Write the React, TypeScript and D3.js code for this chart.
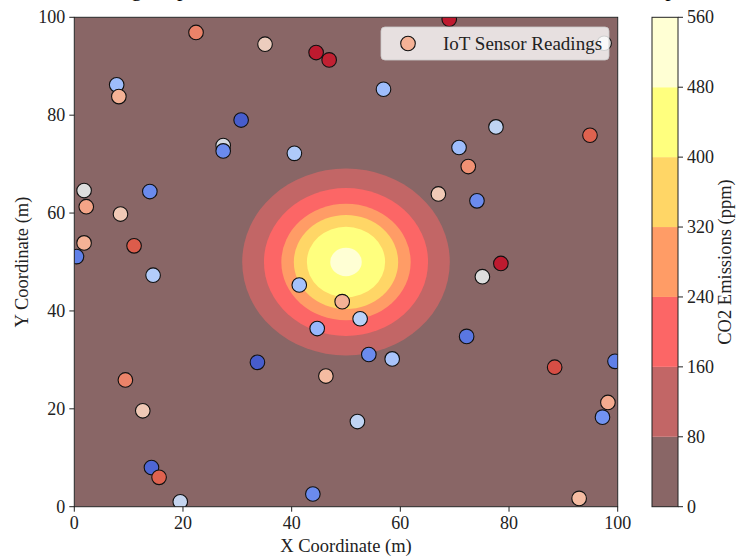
import { useEffect, useRef } from 'react';
import * as d3 from 'd3';

// contour bands of the CO2 field (ppm) and the radius (m) where each level is reached
const contourLevels = [0, 80, 160, 240, 320, 400, 480, 560];
const contourRadii = [19.1, 15.1, 11.9, 9.6, 7.2, 2.9];
const sourceX = 50;
const sourceY = 50;

// IoT sensors: position (m) and colour-scale level (0 = cool, 1 = warm)
const sensorX = [22.4, 7.8, 8.2, 30.7, 27.4, 27.4, 1.8, 2.2, 13.9, 8.5, 1.8, 11.0, 0.4, 14.5,
  9.4, 12.6, 14.2, 15.6, 19.5, 69.0, 35.1, 44.5, 46.9, 56.9, 77.6, 94.9, 40.5, 70.8, 72.5,
  67.0, 74.1, 78.5, 75.1, 97.5, 41.4, 49.3, 52.6, 44.7, 33.7, 54.2, 58.5, 46.3, 72.2, 88.4,
  99.5, 98.2, 97.2, 52.1, 43.9, 92.9];
const sensorY = [96.9, 86.2, 83.8, 79.0, 73.8, 72.7, 64.6, 61.3, 64.4, 59.8, 53.9, 53.3, 51.1, 47.3,
  25.9, 19.6, 8.0, 6.0, 1.0, 99.6, 94.5, 92.8, 91.3, 85.3, 77.6, 75.9, 72.2, 73.4, 69.5,
  63.9, 62.5, 49.7, 47.0, 94.7, 45.3, 41.9, 38.4, 36.4, 29.5, 31.1, 30.2, 26.7, 34.8, 28.5,
  29.7, 21.3, 18.3, 17.4, 2.6, 1.7];
const sensorLevel = [0.8, 0.3, 0.68, 0.04, 0.48, 0.15, 0.5, 0.72, 0.15, 0.6, 0.68, 0.88, 0.12, 0.36,
  0.8, 0.6, 0.06, 0.87, 0.42, 0.97, 0.58, 0.97, 0.96, 0.3, 0.4, 0.87, 0.35, 0.3, 0.77,
  0.6, 0.15, 0.97, 0.5, 0.5, 0.32, 0.68, 0.38, 0.28, 0.04, 0.15, 0.33, 0.65, 0.1, 0.9,
  0.12, 0.7, 0.17, 0.4, 0.15, 0.65];

const xTicks = [0, 20, 40, 60, 80, 100];
const yTicks = [0, 20, 40, 60, 80, 100];
const cbarTicks = [0, 80, 160, 240, 320, 400, 480, 560];

const FONT = "'Liberation Serif', 'Times New Roman', serif";

// matplotlib "hot" drawn at alpha 0.6 on white
const hot = (t: number) => {
  const c = (v: number) => Math.max(0, Math.min(1, v));
  const r = c(0.0416 + (1 - 0.0416) * t / 0.365079);
  const g = c((t - 0.365079) / 0.380953);
  const b = c((t - 0.746032) / 0.253968);
  const mix = (v: number) => Math.round(0.6 * v * 255 + 0.4 * 255);
  return `rgb(${mix(r)},${mix(g)},${mix(b)})`;
};

const coolwarm = d3.scaleLinear<string>()
  .domain([0, 0.125, 0.25, 0.375, 0.5, 0.625, 0.75, 0.875, 1])
  .range(['#3b4cc0', '#6282ea', '#8db0fe', '#b8d0f9', '#dddddd', '#f5c4ac', '#f49a7b', '#de604d', '#b40426'])
  .interpolate(d3.interpolateRgb);

const App = () => {
  const svgRef = useRef<SVGSVGElement>(null);

  useEffect(() => {
    const svg = d3.select(svgRef.current);
    svg.selectAll('*').remove();

    const x = d3.scaleLinear().domain([0, 100]).range([74.3, 617.7]);
    const y = d3.scaleLinear().domain([0, 100]).range([506.7, 17.3]);
    const cb = d3.scaleLinear().domain([0, 560]).range([506.7, 17.3]);
    const bandColor = (i: number) => hot((contourLevels[i] + contourLevels[i + 1]) / 2 / 560);

    svg.append('defs').append('clipPath').attr('id', 'plotClip')
      .append('rect')
      .attr('x', x(0)).attr('y', y(100))
      .attr('width', x(100) - x(0)).attr('height', y(0) - y(100));

    // title (its upper part lies above the visible window, as in the source)
    svg.append('text')
      .attr('x', 7).attr('y', -4)
      .style('font-family', FONT).style('font-size', '22px')
      .text('Air Monitoring Map of Total CO2 Emissions and IoT Sensor Network Output Data (ppm)');

    // filled contours
    const plot = svg.append('g').attr('clip-path', 'url(#plotClip)');
    plot.append('rect')
      .attr('x', x(0)).attr('y', y(100))
      .attr('width', x(100) - x(0)).attr('height', y(0) - y(100))
      .attr('fill', bandColor(0));
    plot.selectAll('.band')
      .data(contourRadii)
      .enter()
      .append('ellipse')
      .attr('class', 'band')
      .attr('cx', x(sourceX))
      .attr('cy', y(sourceY))
      .attr('rx', d => x(sourceX + d) - x(sourceX))
      .attr('ry', d => y(sourceY - d) - y(sourceY))
      .attr('fill', (d, i) => bandColor(i + 1));

    // sensors
    const sensors = sensorX.map((sx, i) => ({ sx, sy: sensorY[i], v: sensorLevel[i] }));
    plot.selectAll('.sensor')
      .data(sensors)
      .enter()
      .append('circle')
      .attr('class', 'sensor')
      .attr('cx', d => x(d.sx))
      .attr('cy', d => y(d.sy))
      .attr('r', 7.3)
      .attr('fill', d => coolwarm(d.v))
      .attr('stroke', '#111')
      .attr('stroke-width', 1.1);

    // frame
    svg.append('rect')
      .attr('x', x(0)).attr('y', y(100))
      .attr('width', x(100) - x(0)).attr('height', y(0) - y(100))
      .attr('fill', 'none').attr('stroke', '#222').attr('stroke-width', 1);

    // x axis
    const xAxis = svg.append('g');
    xAxis.selectAll('line').data(xTicks).enter().append('line')
      .attr('x1', d => x(d)).attr('x2', d => x(d))
      .attr('y1', y(0)).attr('y2', y(0) + 5)
      .attr('stroke', '#222');
    xAxis.selectAll('text').data(xTicks).enter().append('text')
      .attr('x', d => x(d)).attr('y', 529)
      .attr('text-anchor', 'middle')
      .style('font-family', FONT).style('font-size', '18px').style('fill', '#222')
      .text(d => d);
    svg.append('text')
      .attr('x', x(50)).attr('y', 552)
      .attr('text-anchor', 'middle')
      .style('font-family', FONT).style('font-size', '18.5px').style('fill', '#222')
      .text('X Coordinate (m)');

    // y axis
    const yAxis = svg.append('g');
    yAxis.selectAll('line').data(yTicks).enter().append('line')
      .attr('x1', x(0) - 5).attr('x2', x(0))
      .attr('y1', d => y(d)).attr('y2', d => y(d))
      .attr('stroke', '#222');
    yAxis.selectAll('text').data(yTicks).enter().append('text')
      .attr('x', x(0) - 9).attr('y', d => y(d))
      .attr('dy', '0.34em')
      .attr('text-anchor', 'end')
      .style('font-family', FONT).style('font-size', '18px').style('fill', '#222')
      .text(d => d);
    svg.append('text')
      .attr('transform', `translate(28,${y(50)}) rotate(-90)`)
      .attr('text-anchor', 'middle')
      .style('font-family', FONT).style('font-size', '18.5px').style('fill', '#222')
      .text('Y Coordinate (m)');

    // legend
    const legend = svg.append('g');
    legend.append('rect')
      .attr('x', 381).attr('y', 27).attr('width', 228).attr('height', 33)
      .attr('rx', 4)
      .attr('fill', '#fff').attr('fill-opacity', 0.8)
      .attr('stroke', '#ccc').attr('stroke-opacity', 0.8);
    legend.append('circle')
      .attr('cx', 408).attr('cy', 43.5).attr('r', 7.3)
      .attr('fill', coolwarm(0.68))
      .attr('stroke', '#111').attr('stroke-width', 1.1);
    legend.append('text')
      .attr('x', 443).attr('y', 43.5).attr('dy', '0.34em')
      .style('font-family', FONT).style('font-size', '19px').style('fill', '#222')
      .text('IoT Sensor Readings');

    // colorbar
    const cbX = 652;
    const cbW = 26;
    const cbar = svg.append('g');
    cbar.selectAll('rect')
      .data(d3.range(contourLevels.length - 1))
      .enter()
      .append('rect')
      .attr('x', cbX).attr('width', cbW)
      .attr('y', i => cb(contourLevels[i + 1]))
      .attr('height', i => cb(contourLevels[i]) - cb(contourLevels[i + 1]))
      .attr('fill', i => bandColor(i));
    cbar.append('rect')
      .attr('x', cbX).attr('y', cb(560)).attr('width', cbW).attr('height', cb(0) - cb(560))
      .attr('fill', 'none').attr('stroke', '#222').attr('stroke-width', 1);
    cbar.selectAll('.cbtick').data(cbarTicks).enter().append('line')
      .attr('class', 'cbtick')
      .attr('x1', cbX + cbW).attr('x2', cbX + cbW + 5)
      .attr('y1', d => cb(d)).attr('y2', d => cb(d))
      .attr('stroke', '#222');
    cbar.selectAll('.cblabel').data(cbarTicks).enter().append('text')
      .attr('class', 'cblabel')
      .attr('x', cbX + cbW + 9).attr('y', d => cb(d))
      .attr('dy', '0.34em')
      .style('font-family', FONT).style('font-size', '18px').style('fill', '#222')
      .text(d => d);
    svg.append('text')
      .attr('transform', `translate(731,${cb(280)}) rotate(-90)`)
      .attr('text-anchor', 'middle')
      .style('font-family', FONT).style('font-size', '18.5px').style('fill', '#222')
      .text('CO2 Emissions (ppm)');
  }, []);

  return (
    <svg
      ref={svgRef}
      width={737}
      height={557}
      style={{ position: 'absolute', left: 0, top: 0, background: '#fff' }}
    />
  );
};

export default App;
